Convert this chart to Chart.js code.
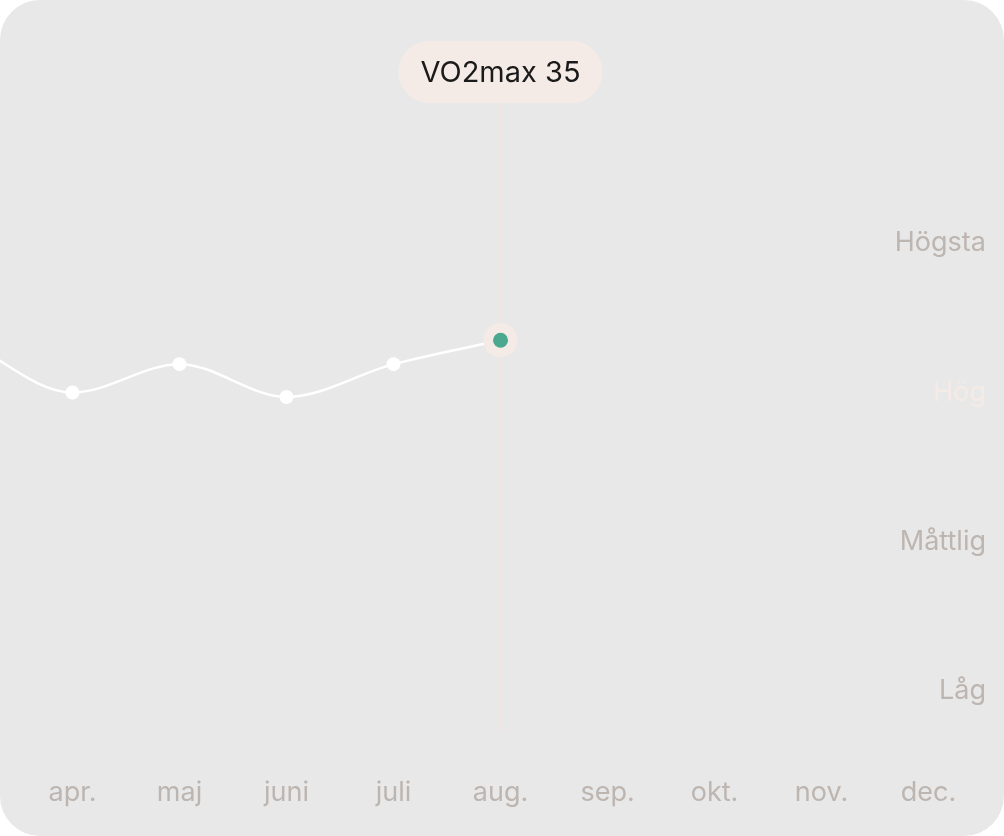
<!DOCTYPE html>
<html><head><meta charset="utf-8">
<script src="https://cdn.jsdelivr.net/npm/chart.js@4"></script>
<style>
html,body{margin:0;padding:0;background:#fff;}
#wrap{width:1004px;height:836px;border-radius:40px;background:#e8e8e8;overflow:hidden;}
</style></head><body>
<div id="wrap"><canvas id="c" width="1004" height="836"></canvas></div>
<script>
const months = ['apr.','maj','juni','juli','aug.','sep.','okt.','nov.','dec.'];
const levels = ['Låg','Måttlig','Hög','Högsta'];
const monthIdx = [-1, 0, 1, 2, 3, 4];
const levelValues = [3.35, 3.0, 3.19, 2.97, 3.19, 3.35];
const highlightIndex = 5;
const highlightLabel = 'VO2max 35';
const currentLevel = 'Hög';

const FONT = 'Inter, "Noto Sans", sans-serif';
const overlay = {
  id:'overlay',
  beforeDatasetsDraw(chart){
    const ctx=chart.ctx, x=chart.scales.x.getPixelForValue(monthIdx[highlightIndex]);
    ctx.save(); ctx.strokeStyle='#f3e6e0'; ctx.lineWidth=2;
    ctx.beginPath(); ctx.moveTo(x,100); ctx.lineTo(x,732); ctx.stroke(); ctx.restore();
  },
  afterDatasetsDraw(chart){
    const ctx=chart.ctx, xs=chart.scales.x, ys=chart.scales.y;
    const x=xs.getPixelForValue(monthIdx[highlightIndex]), y=ys.getPixelForValue(levelValues[highlightIndex]);
    ctx.save();
    ctx.fillStyle='#f5ebe6'; ctx.beginPath(); ctx.arc(x,y,17,0,Math.PI*2); ctx.fill();
    ctx.fillStyle='#4aa88f'; ctx.beginPath(); ctx.arc(x,y,7.5,0,Math.PI*2); ctx.fill();
    const w=204,h=62,tx=x-w/2,ty=41;
    ctx.fillStyle='#f5ebe6'; ctx.beginPath(); ctx.roundRect(tx,ty,w,h,31); ctx.fill();
    ctx.fillStyle='#1a1a1a'; ctx.font='29px '+FONT; ctx.textAlign='center'; ctx.textBaseline='middle';
    ctx.fillText(highlightLabel,x,ty+h/2+1);
    ctx.restore();
  }
};
new Chart(document.getElementById('c'),{
  type:'line',
  data:{datasets:[{
    data:monthIdx.map((m,i)=>({x:m,y:levelValues[i]})),
    borderColor:'#ffffff',borderWidth:2.5,cubicInterpolationMode:'monotone',clip:false,
    pointRadius:levelValues.map((v,i)=>i===highlightIndex?0:7),
    pointBackgroundColor:'#ffffff',pointBorderWidth:0
  }]},
  options:{
    responsive:false,animation:false,devicePixelRatio:1,
    layout:{padding:0},
    plugins:{legend:{display:false},tooltip:{enabled:false}},
    scales:{
      x:{type:'linear',min:-0.612,max:8.275,grid:{display:false,drawTicks:false},border:{display:false},
        afterBuildTicks(s){s.ticks=months.map((m,i)=>({value:i}));},
        afterFit(s){s.height=81;},
        ticks:{autoSkip:false,maxRotation:0,padding:22,color:'#bdb5b0',font:{size:27,family:FONT},callback:v=>months[v]}},
      y:{type:'linear',position:'right',min:0.571,max:5.334,grid:{display:false,drawTicks:false},border:{display:false},
        afterBuildTicks(s){s.ticks=levels.map((l,i)=>({value:i+1}));},
        afterFit(s){s.width=46;},
        ticks:{mirror:true,padding:28,font:{size:27,family:FONT},
          color:c=>levels[c.tick.value-1]===currentLevel?'#f5ebe6':'#bdb5b0',
          callback:v=>levels[v-1]}}
    }
  },
  plugins:[overlay]
});
</script></body></html>
